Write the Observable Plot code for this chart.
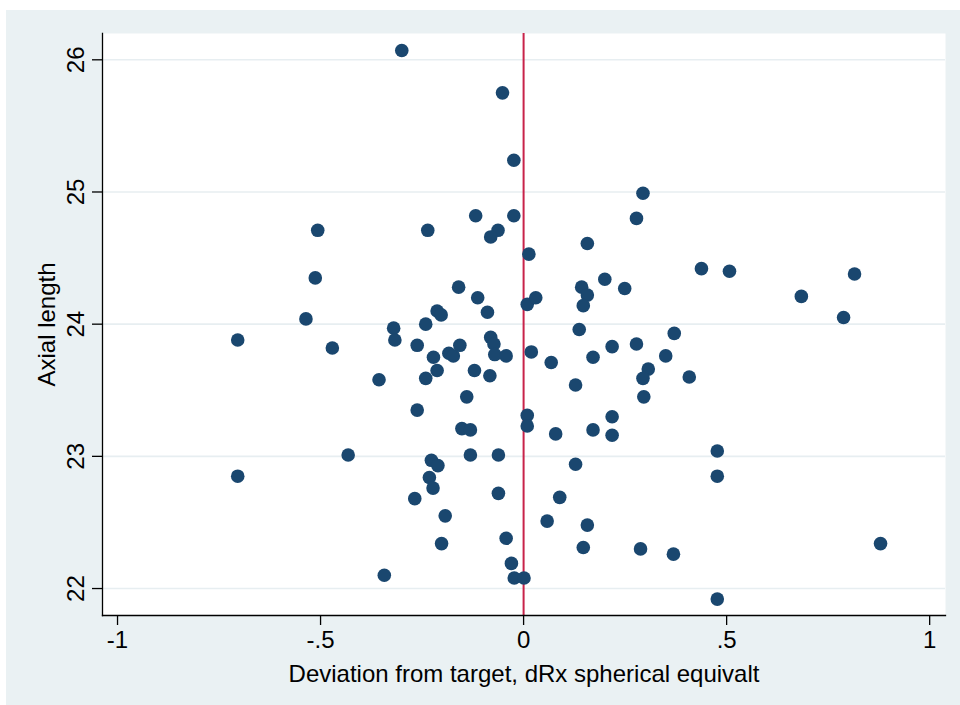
<!DOCTYPE html>
<html>
<head>
<meta charset="utf-8">
<script src="https://cdn.jsdelivr.net/npm/d3@7"></script>
<script src="https://cdn.jsdelivr.net/npm/@observablehq/plot@0.6"></script>
<style>
  html, body { margin: 0; padding: 0; background: #ffffff; }
  #wrap { position: relative; width: 960px; height: 705px; overflow: hidden; }
  #panel { position: absolute; left: 6px; top: 10px; width: 954px; height: 695px; background: #eaf1f3; }
  #chart { position: absolute; left: 0; top: 0; }
</style>
</head>
<body>
<div id="wrap">
  <div id="panel"></div>
  <div id="chart"></div>
</div>
<script>
// Deviation from target (dRx spherical equivalent)
const deviation = [
  -0.300, -0.052, -0.024, 0.294, 0.278, -0.118, -0.024, -0.507, -0.236, -0.063,
  -0.081, 0.013, 0.157, 0.438, 0.507, 0.815, 0.684, 0.788, -0.513, -0.160,
  -0.113, -0.089, -0.213, -0.203, -0.536, -0.241, -0.320, -0.317, -0.704, -0.471,
  -0.262, -0.222, -0.184, -0.173, -0.157, -0.081, -0.073, -0.071, -0.043, 0.009,
  0.030, 0.019, 0.143, 0.157, 0.147, 0.200, 0.249, 0.137, 0.371, 0.068,
  0.171, 0.218, 0.278, 0.350, 0.307, 0.294, 0.408, 0.128, -0.356, -0.241,
  -0.213, -0.121, -0.083, -0.140, -0.262, -0.152, -0.131, 0.009, 0.009, 0.296,
  0.079, 0.171, 0.218, 0.218, 0.128, -0.131, -0.062, -0.432, -0.227, -0.211,
  -0.704, -0.232, -0.223, -0.268, -0.062, -0.193, -0.202, -0.043, -0.030, -0.023,
  0.001, -0.343, 0.089, 0.058, 0.157, 0.147, 0.288, 0.369, 0.477, 0.477,
  0.879, 0.477
];
// Axial length
const axialLength = [
  26.07, 25.75, 25.24, 24.99, 24.80, 24.82, 24.82, 24.71, 24.71, 24.71,
  24.66, 24.53, 24.61, 24.42, 24.40, 24.38, 24.21, 24.05, 24.35, 24.28,
  24.20, 24.09, 24.10, 24.07, 24.04, 24.00, 23.97, 23.88, 23.88, 23.82,
  23.84, 23.75, 23.78, 23.76, 23.84, 23.90, 23.85, 23.77, 23.76, 24.15,
  24.20, 23.79, 24.28, 24.22, 24.14, 24.34, 24.27, 23.96, 23.93, 23.71,
  23.75, 23.83, 23.85, 23.76, 23.66, 23.59, 23.60, 23.54, 23.58, 23.59,
  23.65, 23.65, 23.61, 23.45, 23.35, 23.21, 23.20, 23.31, 23.23, 23.45,
  23.17, 23.20, 23.30, 23.16, 22.94, 23.01, 23.01, 23.01, 22.97, 22.93,
  22.85, 22.84, 22.76, 22.68, 22.72, 22.55, 22.34, 22.38, 22.19, 22.08,
  22.08, 22.10, 22.69, 22.51, 22.48, 22.31, 22.30, 22.26, 23.04, 22.85,
  22.34, 21.92
];
const xTicks = [-1, -0.5, 0, 0.5, 1];
const xTickLabels = ["-1", "-.5", "0", ".5", "1"];
const yTicks = [22, 23, 24, 25, 26];
const yTickLabels = ["22", "23", "24", "25", "26"];
const referenceX = [0];
const xTitle = "Deviation from target, dRx spherical equivalt";
const yTitle = "Axial length";

const points = deviation.map((d, i) => ({x: d, y: axialLength[i]}));
const font = "'Liberation Sans', Arial, Helvetica, sans-serif";

const chart = Plot.plot({
  width: 960,
  height: 705,
  marginLeft: 102,
  marginRight: 15,
  marginTop: 33,
  marginBottom: 90,
  style: {background: "transparent", fontFamily: font, color: "#000"},
  x: {domain: [-1.037, 1.039]},
  y: {domain: [21.796, 26.199]},
  marks: [
    Plot.frame({fill: "#ffffff", stroke: null}),
    Plot.gridY(yTicks, {stroke: "#e7eef1", strokeOpacity: 1, strokeWidth: 1.6}),
    Plot.ruleX(referenceX, {stroke: "#c8234a", strokeWidth: 2}),
    Plot.dot(points, {x: "x", y: "y", r: 6.8, fill: "#1a476f", stroke: null}),
    Plot.frame({anchor: "left", stroke: "#000", strokeWidth: 1.3}),
    Plot.frame({anchor: "bottom", stroke: "#000", strokeWidth: 1.3}),
    Plot.axisX(xTicks, {
      tickSize: 10, tickPadding: 5, fontSize: 24, label: null,
      tickFormat: (d) => xTickLabels[xTicks.indexOf(d)],
      stroke: "#000", strokeWidth: 1.3
    }),
    Plot.axisY(yTicks, {
      tickSize: 10, tickPadding: 9, fontSize: 24, label: null, tickRotate: -90,
      tickFormat: (d) => yTickLabels[yTicks.indexOf(d)],
      stroke: "#000", strokeWidth: 1.3
    }),
    Plot.text([xTitle], {
      frameAnchor: "bottom", dy: 66, fontSize: 24, fill: "#000",
      textAnchor: "middle", lineAnchor: "bottom"
    }),
    Plot.text([yTitle], {
      frameAnchor: "left", dx: -48, rotate: -90, fontSize: 24, fill: "#000",
      textAnchor: "middle", lineAnchor: "bottom"
    })
  ]
});
document.getElementById("chart").appendChild(chart);
</script>
</body>
</html>
